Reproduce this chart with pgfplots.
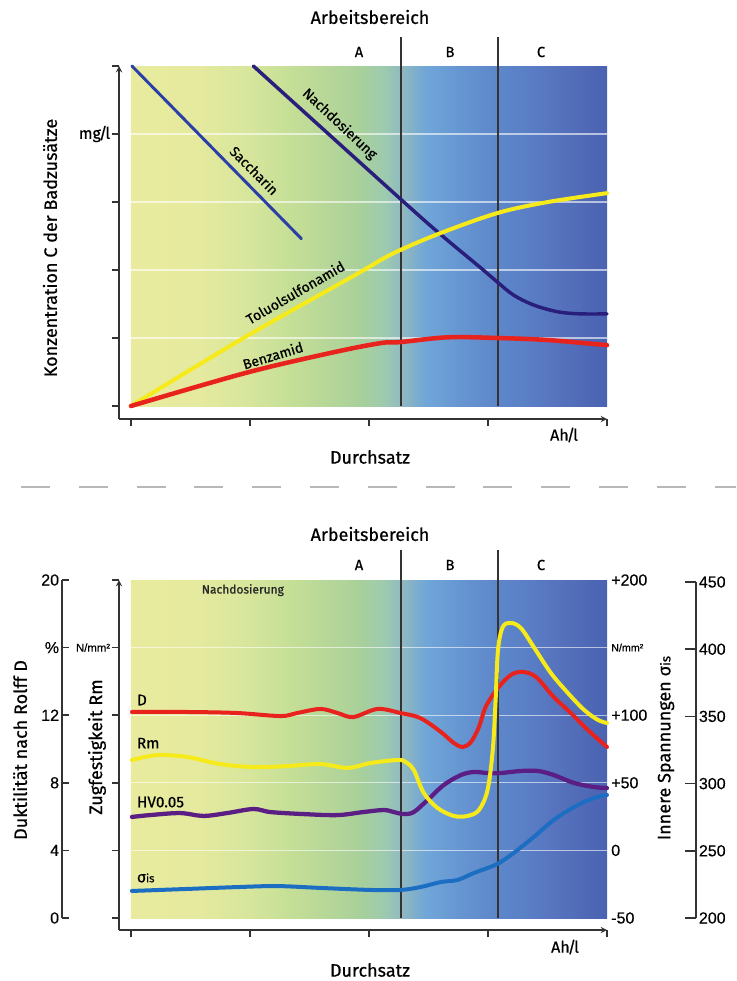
\documentclass[border=0pt]{standalone}
\usepackage{pgfplots}
\pgfplotsset{compat=1.18}
\usepackage{fontspec}
\setmainfont{Fira Sans}[FakeBold=0.6]
\newfontfamily\numfont{Liberation Sans}[FakeBold=0.3]

\definecolor{axc}{HTML}{333333}
\definecolor{sacc}{HTML}{2B3FA6}
\definecolor{nach}{HTML}{2A1E7C}
\definecolor{yel}{HTML}{F7EA1A}
\definecolor{cred}{HTML}{E8231E}
\definecolor{purp}{HTML}{5B1E84}
\definecolor{sig}{HTML}{1B6EC2}

\pgfdeclarehorizontalshading{bggrad}{100bp}{
rgb(0bp)=(0.910,0.922,0.620);
rgb(25bp)=(0.910,0.922,0.620);
rgb(31.5bp)=(0.902,0.918,0.620);
rgb(37.5bp)=(0.839,0.902,0.612);
rgb(42bp)=(0.769,0.871,0.588);
rgb(49bp)=(0.663,0.816,0.604);
rgb(51.75bp)=(0.612,0.792,0.690);
rgb(53.5bp)=(0.561,0.722,0.753);
rgb(56bp)=(0.439,0.651,0.847);
rgb(59.5bp)=(0.400,0.588,0.824);
rgb(63bp)=(0.369,0.533,0.792);
rgb(66.5bp)=(0.353,0.498,0.776);
rgb(70bp)=(0.337,0.447,0.737);
rgb(75bp)=(0.290,0.384,0.698);
rgb(100bp)=(0.290,0.384,0.698)}

\pgfplotsset{
  base/.style={scale only axis, clip=false,
    axis line style={-, draw=axc, line width=1.1pt},
    tick style={draw=axc, line width=1.1pt},
    major tick length=5.5pt},
  curve/.style={smooth, tension=0.55, line cap=round, line join=round, no markers},
}
\newcommand{\lab}{\fontsize{13.5}{15}\selectfont}
\newcommand{\clab}{\fontsize{10.5}{12}\selectfont}
\newcommand{\sig}{σ{\fontsize{8.5}{10}\selectfont is}}
\newcommand{\slsh}{\kern-0.12em/\kern-0.12em}

\begin{document}
\begin{tikzpicture}
\path[use as bounding box] (0pt,0pt) rectangle (552pt,-735.75pt);

%%%%%%%%%%%%%%%% TOP PANEL %%%%%%%%%%%%%%%%
\begin{axis}[base, at={(89.25pt,-314.25pt)}, anchor=south west,
  width=366pt, height=264.75pt,
  xmin=-2.52, xmax=100, ymin=-3.82, ymax=100,
  axis lines=left, tick align=outside,
  xtick={0,25,50,75,100}, xticklabels=\empty,
  ytick={0,20,40,60,80,100}, yticklabels={,,,,mg\slsh l,},
  yticklabel style={font=\fontsize{12}{14}\selectfont, inner sep=1pt}]
  \fill[shading=bggrad] (axis cs:0,0) rectangle (axis cs:100,100);
  \pgfplotsinvokeforeach{20,40,60,80}{
    \draw[white, opacity=0.6, line width=0.9pt] (axis cs:0,#1) -- (axis cs:100,#1);}
  \draw[axc, line width=1pt] (axis cs:56.7,0) -- (axis cs:56.7,108.5);
  \draw[axc, line width=1pt] (axis cs:77.1,0) -- (axis cs:77.1,108.5);

  \addplot[curve, sacc, line width=2.2pt] coordinates {(0.2,100) (35.8,49.2)};
  \addplot[curve, nach, line width=2.6pt] coordinates {
    (25.7,100) (56.6,60.9) (65.1,50.4) (73.5,40.6) (77.1,36.3) (80.4,32.6)
    (84.6,29.7) (89.7,27.7) (94.5,27.1) (100,27.1)};
  \addplot[curve, yel, line width=3pt] coordinates {
    (0,0) (24,20.3) (47.8,39.1) (52.4,42.9) (56.6,45.9) (65.1,50.9)
    (77.1,56.8) (87.6,60.0) (100,62.6)};
  \addplot[curve, cred, line width=3.4pt] coordinates {
    (0,0) (24,9.7) (41.9,15.6) (52.4,18.5) (56.6,18.8) (66.5,20.2)
    (77.1,20.0) (87.6,19.4) (100,17.9)};

  \node[rotate=-45, font=\clab] at (axis cs:25.9,69.3) {Saccharin};
  \node[rotate=-43, font=\clab] at (axis cs:43.8,82.9) {Nachdosierung};
  \node[rotate=30, font=\clab] at (axis cs:34.5,33.4) {Toluolsulfonamid};
  \node[rotate=17, font=\clab] at (axis cs:29.8,14.9) {Benzamid};
\end{axis}

%%%%%%%%%%%%%%%% BOTTOM PANEL %%%%%%%%%%%%%%%%
\begin{axis}[base, at={(89.25pt,-697.5pt)}, anchor=south west,
  width=366pt, height=262.5pt,
  xmin=-2.52, xmax=100, ymin=-0.71, ymax=20,
  axis lines=left, tick align=outside,
  xtick={0,25,50,75,100}, xticklabels=\empty,
  ytick={0,4,8,12,16,20}, yticklabels={,,,,N/mm²,},
  yticklabel style={font=\numfont\fontsize{8.5}{10}\selectfont, inner sep=1pt}]
  \fill[shading=bggrad] (axis cs:0,0) rectangle (axis cs:100,20);
  \pgfplotsinvokeforeach{4,8,12,16}{
    \draw[white, opacity=0.6, line width=0.9pt] (axis cs:0,#1) -- (axis cs:100,#1);}
  \draw[axc, line width=1pt] (axis cs:56.7,0) -- (axis cs:56.7,21.78);
  \draw[axc, line width=1pt] (axis cs:77.1,0) -- (axis cs:77.1,21.78);

  % sigma_is
  \addplot[curve, sig, line width=3pt] coordinates {
    (0.2,1.60) (11.8,1.72) (22.3,1.83) (30.7,1.89) (39.8,1.78) (50.3,1.66)
    (56.6,1.66) (60.8,1.83) (65.1,2.13) (68.6,2.25) (72.0,2.66) (74.9,2.96)
    (77.3,3.25) (80.4,3.85) (84.6,4.79) (88.8,5.80) (93.1,6.57) (97.3,7.10) (100,7.28)};
  % HV0.05
  \addplot[curve, purp, line width=3.2pt] coordinates {
    (0.2,5.98) (4.0,6.09) (10.3,6.21) (15.2,6.04) (20.2,6.21) (25.7,6.45)
    (29.3,6.27) (36.2,6.15) (43.4,6.09) (48.8,6.27) (53.1,6.39) (55.2,6.27)
    (57.3,6.15) (59.4,6.27) (62.3,6.98) (65.7,7.87) (69.3,8.46) (72.0,8.64)
    (74.9,8.58) (77.7,8.58) (81.9,8.70) (85.5,8.70) (88.8,8.46) (93.1,7.99)
    (97.3,7.75) (100,7.69)};
  % D
  \addplot[curve, cred, line width=3pt] coordinates {
    (0.2,12.19) (11.8,12.19) (22.3,12.13) (31.4,11.95) (34.9,12.13) (39.8,12.37)
    (43.4,12.13) (46.7,11.89) (51.8,12.37) (56.6,12.13) (60.8,11.83) (65.1,11.01)
    (67.8,10.36) (69.7,10.12) (71.4,10.41) (73.1,11.30) (74.5,12.49) (77.1,13.61)
    (79.8,14.38) (82.3,14.56) (85.1,14.26) (88.8,13.08) (92.4,12.13) (96.0,11.12) (100,10.12)};
  % Rm
  \addplot[curve, yel, line width=3pt] coordinates {
    (0.2,9.35) (5.5,9.64) (11.8,9.53) (18.7,9.11) (25.7,8.93) (32.8,8.99)
    (39.8,9.11) (45.5,8.88) (50.3,9.17) (56.0,9.35) (57.7,9.23) (59.4,8.76)
    (61.5,7.40) (64.4,6.51) (67.8,6.04) (70.7,6.04) (73.1,6.39) (74.9,7.57)
    (76.0,9.94) (76.6,12.90) (77.1,15.86) (78.1,17.22) (79.8,17.46) (81.9,17.16)
    (84.6,16.04) (88.2,14.50) (91.8,13.31) (95.2,12.31) (98.1,11.72) (100,11.54)};

  \node[anchor=west, font=\fontsize{11.5}{13}\selectfont, inner sep=0pt] at (axis cs:1.2,12.9) {D};
  \node[anchor=west, font=\fontsize{11.5}{13}\selectfont, inner sep=0pt] at (axis cs:1.2,10.35) {Rm};
  \node[anchor=west, font=\fontsize{11.5}{13}\selectfont, inner sep=0pt] at (axis cs:1.2,6.86) {HV0.05};
  \node[anchor=west, font=\fontsize{11.5}{13}\selectfont, inner sep=0pt] at (axis cs:1.2,2.37) {\sig};
  \node[font=\fontsize{9}{11}\selectfont, text=black!85] at (axis cs:23.5,19.4) {Nachdosierung};
\end{axis}

% D axis (far left)
\begin{axis}[at={(46.5pt,-688.5pt)}, anchor=south west, scale only axis,
  width=8pt, height=253.5pt, xmin=0, xmax=1, ymin=0, ymax=20,
  axis x line=none, axis y line=left,
  axis line style={-, draw=axc, line width=1.1pt},
  tick style={draw=axc, line width=1.1pt},
  tick align=inside, major tick length=5pt,
  ytick={0,4,8,12,16,20}, yticklabels={0,4,8,12,\%,20},
  yticklabel style={font=\numfont\fontsize{12}{14}\selectfont, inner sep=2pt}]
\end{axis}

% sigma labels inside right
\begin{axis}[at={(98.25pt,-688.5pt)}, anchor=south west, scale only axis,
  width=357pt, height=253.5pt, xmin=0, xmax=1, ymin=-50, ymax=200,
  axis x line=none, axis y line=right,
  axis line style={draw=none}, major tick length=0pt,
  ytick={-50,0,50,100,150,200}, yticklabels={-50,0,+50,+100,{\fontsize{8}{9}\selectfont N/mm²},+200},
  yticklabel style={font=\numfont\fontsize{12}{14}\selectfont, inner sep=3pt}]
\end{axis}

% far right axis
\begin{axis}[at={(514.5pt,-688.5pt)}, anchor=south west, scale only axis,
  width=7.5pt, height=252pt, xmin=0, xmax=1, ymin=200, ymax=450,
  axis x line=none, axis y line=right,
  axis line style={-, draw=axc, line width=1.1pt},
  tick style={draw=axc, line width=1.1pt},
  tick align=inside, major tick length=8pt,
  ytick={200,250,300,350,400,450},
  yticklabels={200,250,300,350,400,450},
  yticklabel style={font=\numfont\fontsize{12}{14}\selectfont, inner sep=2pt}]
\end{axis}

\begin{scope}[x=0.75pt, y=-0.75pt]
  % top texts
  \node[font=\lab] at (370,17) {Arbeitsbereich};
  \node[font=\fontsize{11}{13}\selectfont] at (359,52) {A};
  \node[font=\fontsize{11}{13}\selectfont] at (450,52) {B};
  \node[font=\fontsize{11}{13}\selectfont] at (541,52) {C};
  \node[font=\fontsize{12}{14}\selectfont] at (564,435) {Ah\slsh l};
  \node[font=\lab] at (370,457) {Durchsatz};
  \node[font=\lab, rotate=90] at (50,248) {Konzentration C der Badzusätze};

  % separator
  \draw[black!28, line width=1.5pt, dash pattern=on 21.75pt off 21.6pt] (21,487) -- (736,487);

  % bottom texts
  \node[font=\lab] at (370,534) {Arbeitsbereich};
  \node[font=\fontsize{11}{13}\selectfont] at (359,565) {A};
  \node[font=\fontsize{11}{13}\selectfont] at (450,565) {B};
  \node[font=\fontsize{11}{13}\selectfont] at (541,565) {C};
  \node[font=\fontsize{12}{14}\selectfont] at (565,947) {Ah\slsh l};
  \node[font=\lab] at (370,970) {Durchsatz};
  \node[font=\lab, rotate=90] at (20,750) {Duktilität nach Rolff D};
  \node[font=\lab, rotate=90] at (97,747) {Zugfestigkeit Rm};
  \node[font=\lab, rotate=90] at (666,748) {Innere Spannungen σ{\fontsize{10}{11}\selectfont is}};
\end{scope}
\end{tikzpicture}
\end{document}
